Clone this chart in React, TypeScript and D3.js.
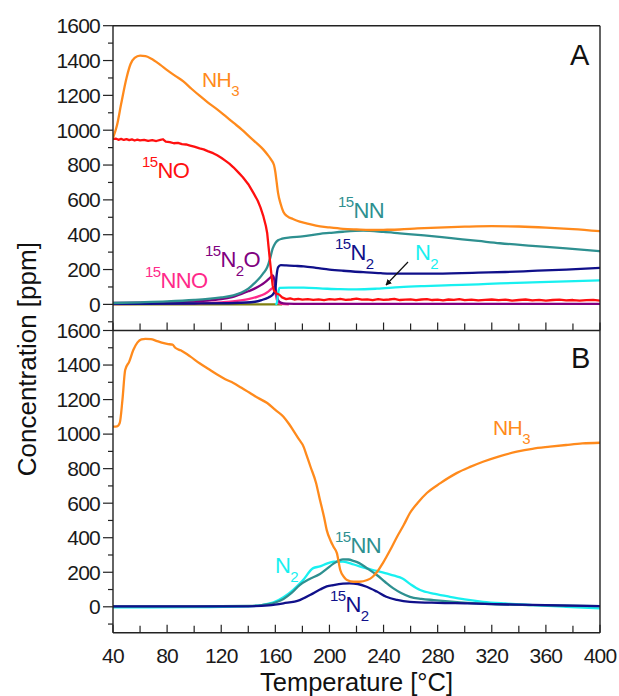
import React from 'react';
import * as d3 from 'd3';

type P = [number, number];

const tempTicks = [40, 80, 120, 160, 200, 240, 280, 320, 360, 400];
const tempMinor = [60, 100, 140, 180, 220, 260, 300, 340, 380];
const concTicks = [0, 200, 400, 600, 800, 1000, 1200, 1400, 1600];
const concMinor = [-100, 100, 300, 500, 700, 900, 1100, 1300, 1500];

// Panel A
const nh3A: P[] = [[40,955],[43,1030],[46,1150],[50,1300],[53,1380],[56,1415],[60,1428],[64,1425],[68,1412],[75,1375],[80,1345],[86,1312],[92,1280],[98,1238],[104,1198],[110,1160],[117,1120],[123,1082],[129,1043],[135,1005],[141,962],[147,920],[151,890],[154,862],[157,830],[159,800],[160,760],[161,700],[162,640],[164,575],[166,530],[169,505],[173,490],[178,475],[183,465],[190,452],[200,442],[210,434],[220,430],[230,427],[240,428],[252,430],[265,436],[280,441],[300,446],[320,449],[340,447],[360,441],[380,432],[400,420]];
const no15A: P[] = [[40,948],[42,952],[44,945],[46,950],[48,944],[50,949],[52,943],[54,947],[56,941],[58,946],[60,942],[63,945],[66,939],[69,943],[72,938],[75,944],[77,948],[79,935],[82,932],[85,925],[88,927],[91,920],[94,918],[97,912],[100,906],[104,896],[107,890],[110,880],[114,868],[117,856],[120,842],[123,825],[126,808],[129,787],[133,755],[136,730],[140,690],[144,637],[147,595],[149,557],[151,510],[153,450],[154,408],[155,330],[156,253],[157,180],[158,110],[159,80],[161,63],[163,55],[165,40],[168,30],[171,35],[174,28],[177,32],[180,27],[184,30],[188,26],[192,29],[196,25],[200,30],[204,27],[208,31],[212,26],[216,28],[220,33],[224,27],[228,29],[232,25],[236,30],[240,26],[244,28],[248,31],[252,25],[256,27],[260,29],[264,24],[268,28],[272,30],[276,25],[280,27],[284,23],[288,28],[292,26],[296,30],[300,24],[305,27],[310,23],[315,26],[320,28],[325,24],[330,27],[335,22],[340,25],[345,28],[350,23],[355,26],[360,22],[365,25],[370,27],[375,23],[380,25],[385,21],[390,24],[395,26],[400,22]];
const nn15A: P[] = [[40,8],[60,12],[80,17],[100,25],[110,31],[120,40],[129,52],[135,68],[140,90],[144,118],[148,148],[151,178],[154,213],[156,260],[158,320],[160,352],[162,368],[165,377],[171,385],[180,390],[193,405],[200,410],[210,417],[225,423],[240,416],[252,408],[270,396],[290,380],[310,364],[326,351],[350,336],[375,321],[400,305]];
const n2_15A: P[] = [[40,3],[100,5],[130,8],[145,15],[150,25],[155,40],[158,55],[160,90],[161,170],[162,212],[164,225],[168,224],[175,221],[181,218],[190,210],[200,200],[210,193],[225,185],[238,179],[250,176],[270,176],[290,178],[310,182],[330,186],[350,192],[375,200],[400,210]];
const n2A: P[] = [[160,0],[161,5],[162,60],[163,95],[170,96],[181,96],[195,91],[208,87],[220,86],[235,90],[252,99],[270,105],[290,110],[310,115],[326,120],[350,126],[375,132],[400,138]];
const n2o15A: P[] = [[40,8],[60,10],[80,13],[100,18],[110,22],[120,30],[128,42],[135,60],[140,75],[145,92],[149,109],[152,125],[155,145],[157,160],[158,166],[159,150],[160,100],[161,55],[162,25],[164,10],[168,4],[180,3],[250,3],[400,3]];
const nno15A: P[] = [[40,2],[80,4],[100,6],[120,12],[130,18],[140,30],[147,45],[152,60],[155,75],[158,95],[159,100],[160,70],[161,30],[162,10],[164,3],[170,0]];
const oliveA: P[] = [[40,0],[165,0]];

// Panel B
const nh3B: P[] = [[40,1043],[43,1045],[45,1065],[47,1200],[49,1371],[52,1420],[55,1487],[58,1530],[61,1548],[64,1551],[68,1550],[72,1540],[76,1530],[80,1522],[84,1518],[86,1500],[90,1485],[97,1450],[104,1410],[110,1380],[117,1345],[123,1318],[129,1296],[135,1268],[141,1240],[147,1210],[154,1180],[160,1140],[166,1101],[170,1060],[173,1024],[177,975],[181,925],[183,880],[186,811],[190,720],[193,618],[196,520],[198,444],[201,380],[203,348],[205.5,311],[208,213],[211,170],[213,155],[218,145],[222,145],[228,155],[232,174],[236,210],[239.5,253],[245,330],[250,406],[255,475],[259.5,543],[265,600],[272,659],[282,716],[294,774],[304,810],[313.5,840],[325,870],[338.5,898],[350,915],[363,927],[375,937],[387,946],[400,950]];
const nnB: P[] = [[40,3],[100,3],[140,5],[150,10],[160,25],[166,45],[172,80],[178,126],[185,160],[193,190],[198,220],[203,250],[207,268],[210,275],[214,274],[218,265],[222,253],[228,222],[235,184],[241,145],[247,108],[253,80],[259.5,58],[268,46],[277,39],[290,30],[302,23],[320,16],[350,10],[375,6],[400,4]];
const n2B: P[] = [[40,-3],[100,-2],[140,3],[150,10],[160,30],[166,55],[173,97],[180,150],[188,224],[193,234],[198,250],[203,261],[210,262],[218,245],[227.5,222],[235,208],[242,193],[248,180],[254,164],[260,130],[267,97],[278,75],[289,58],[300,43],[313.5,29],[330,19],[350,10],[375,0],[400,-9]];
const n2_15B: P[] = [[40,2],[100,2],[140,3],[155,8],[166,20],[178,39],[186,70],[193,100],[198,118],[203,126],[210,134],[215,136],[221,132],[227.5,116],[235,88],[242,58],[250,40],[259.5,29],[280,23],[302,20],[340,12],[370,8],[400,4]];

const C = {
  orange: '#ff8a1c',
  red: '#ff1010',
  teal: '#2e9090',
  navy: '#10108a',
  cyan: '#18f0f0',
  purple: '#800080',
  pink: '#ff2a8a',
  olive: '#7f7f10',
};

const FONT = '"Liberation Sans", Arial, sans-serif';

const x = d3.scaleLinear().domain([40, 400]).range([113, 600]);
const yA = d3.scaleLinear().domain([-150, 1600]).range([330.5, 25.7]);
const yB = d3.scaleLinear().domain([-150, 1600]).range([632.7, 330.5]);

type Part = { t: string; k?: 'sup' | 'sub' };

function Label({ x0, y0, parts, color, size = 22 }: { x0: number; y0: number; parts: Part[]; color: string; size?: number }) {
  let prev: 'sup' | 'sub' | undefined = undefined;
  const off = (k?: 'sup' | 'sub') => (k === 'sup' ? -11 : k === 'sub' ? 9 : 0);
  return (
    <text x={x0} y={y0} fill={color} fontFamily={FONT} fontSize={size} letterSpacing={-0.6}>
      {parts.map((p, i) => {
        const dy = off(p.k) - off(prev);
        prev = p.k;
        return (
          <tspan key={i} dy={dy} fontSize={p.k ? 15 : size}>
            {p.t}
          </tspan>
        );
      })}
    </text>
  );
}

function Series({ data, y, color, curve = true }: { data: P[]; y: d3.ScaleLinear<number, number>; color: string; curve?: boolean }) {
  const gen = d3
    .line<P>()
    .x((d) => x(d[0]))
    .y((d) => y(d[1]))
    .curve(curve ? d3.curveMonotoneX : d3.curveLinear);
  return <path d={gen(data) || ''} fill="none" stroke={color} strokeWidth={2.3} strokeLinejoin="round" />;
}

function YAxis({ y }: { y: d3.ScaleLinear<number, number> }) {
  return (
    <g>
      {concTicks.map((t) => (
        <g key={'M' + t}>
          <line x1={103} x2={113} y1={y(t)} y2={y(t)} stroke="#222" strokeWidth={1.2} />
          <text x={100} y={y(t)} dy="0.35em" textAnchor="end" fontFamily={FONT} fontSize={21} fill="#1a1a1a" letterSpacing={-0.8}>
            {t}
          </text>
        </g>
      ))}
      {concMinor.map((t) => (
        <line key={'m' + t} x1={108} x2={113} y1={y(t)} y2={y(t)} stroke="#222" strokeWidth={1.2} />
      ))}
    </g>
  );
}

function XTicksUp({ yPos }: { yPos: number }) {
  return (
    <g>
      {tempTicks.map((t) => (
        <line key={'M' + t} x1={x(t)} x2={x(t)} y1={yPos} y2={yPos - 8} stroke="#222" strokeWidth={1.2} />
      ))}
      {tempMinor.map((t) => (
        <line key={'m' + t} x1={x(t)} x2={x(t)} y1={yPos} y2={yPos - 7} stroke="#222" strokeWidth={1.2} />
      ))}
    </g>
  );
}

export default function App() {
  const left = x(40);
  const right = x(400);
  const topA = yA(1600);
  const mid = yA(-150);
  const bot = yB(-150);
  return (
    <svg width={619} height={696} style={{ position: 'absolute', left: 0, top: 0, background: '#fff' }}>
      <rect width={619} height={696} fill="#fff" />
      <defs>
        <clipPath id="clipA">
          <rect x={left} y={topA} width={right - left} height={mid - topA} />
        </clipPath>
        <clipPath id="clipB">
          <rect x={left} y={mid} width={right - left} height={bot - mid} />
        </clipPath>
        <marker id="arr" viewBox="0 0 10 10" refX={9} refY={5} markerWidth={5} markerHeight={5} orient="auto">
          <path d="M0,0 L10,5 L0,10 z" fill="#111" />
        </marker>
      </defs>
      <g clipPath="url(#clipA)">
        <Series data={oliveA} y={yA} color={C.olive} />
        <Series data={nno15A} y={yA} color={C.pink} />
        <Series data={n2o15A} y={yA} color={C.purple} />
        <Series data={n2A} y={yA} color={C.cyan} />
        <Series data={n2_15A} y={yA} color={C.navy} />
        <Series data={nn15A} y={yA} color={C.teal} />
        <Series data={no15A} y={yA} color={C.red} curve={false} />
        <Series data={nh3A} y={yA} color={C.orange} />
      </g>
      <g clipPath="url(#clipB)">
        <Series data={n2B} y={yB} color={C.cyan} />
        <Series data={nnB} y={yB} color={C.teal} />
        <Series data={n2_15B} y={yB} color={C.navy} />
        <Series data={nh3B} y={yB} color={C.orange} />
      </g>

      <g fill="none" stroke="#222" strokeWidth={1.4}>
        <line x1={left} x2={right} y1={topA} y2={topA} />
        <line x1={left} x2={right} y1={mid} y2={mid} />
        <line x1={left} x2={right} y1={bot} y2={bot} />
        <line x1={left} x2={left} y1={topA} y2={bot} />
        <line x1={right} x2={right} y1={topA} y2={bot} />
      </g>
      <YAxis y={yA} />
      <YAxis y={yB} />
      <XTicksUp yPos={mid} />
      <XTicksUp yPos={bot} />
      {tempTicks.map((t) => (
        <text key={t} x={x(t)} y={663} textAnchor="middle" fontFamily={FONT} fontSize={21} fill="#1a1a1a" letterSpacing={-0.8}>
          {t}
        </text>
      ))}

      <text x={(left + right) / 2} y={691} textAnchor="middle" fontFamily={FONT} fontSize={25.5} fill="#111">
        Temperature [°C]
      </text>
      <text transform={`translate(36, ${(topA + bot) / 2 + 30}) rotate(-90)`} textAnchor="middle" fontFamily={FONT} fontSize={26} fill="#111">
        Concentration [ppm]
      </text>

      <text x={570} y={65} fontFamily={FONT} fontSize={29} fill="#111">A</text>
      <text x={571} y={368} fontFamily={FONT} fontSize={29} fill="#111">B</text>

      <Label x0={202} y0={87} color={C.orange} size={21} parts={[{ t: 'NH' }, { t: '3', k: 'sub' }]} />
      <Label x0={142} y0={178} color={C.red} parts={[{ t: '15', k: 'sup' }, { t: 'NO' }]} />
      <Label x0={338} y0={218} color={C.teal} parts={[{ t: '15', k: 'sup' }, { t: 'NN' }]} />
      <Label x0={335} y0={260} color={C.navy} parts={[{ t: '15', k: 'sup' }, { t: 'N' }, { t: '2', k: 'sub' }]} />
      <Label x0={415} y0={260} color={C.cyan} parts={[{ t: 'N' }, { t: '2', k: 'sub' }]} />
      <Label x0={205} y0={267} color={C.purple} parts={[{ t: '15', k: 'sup' }, { t: 'N' }, { t: '2', k: 'sub' }, { t: 'O' }]} />
      <Label x0={145} y0={288} color={C.pink} parts={[{ t: '15', k: 'sup' }, { t: 'NNO' }]} />
      <line x1={408} y1={262} x2={386} y2={285} stroke="#111" strokeWidth={1.2} markerEnd="url(#arr)" />

      <Label x0={493} y0={435} color={C.orange} size={21} parts={[{ t: 'NH' }, { t: '3', k: 'sub' }]} />
      <Label x0={335} y0={553} color={C.teal} parts={[{ t: '15', k: 'sup' }, { t: 'NN' }]} />
      <Label x0={275} y0={573} color={C.cyan} parts={[{ t: 'N' }, { t: '2', k: 'sub' }]} />
      <Label x0={330} y0={612} color={C.navy} parts={[{ t: '15', k: 'sup' }, { t: 'N' }, { t: '2', k: 'sub' }]} />
    </svg>
  );
}
